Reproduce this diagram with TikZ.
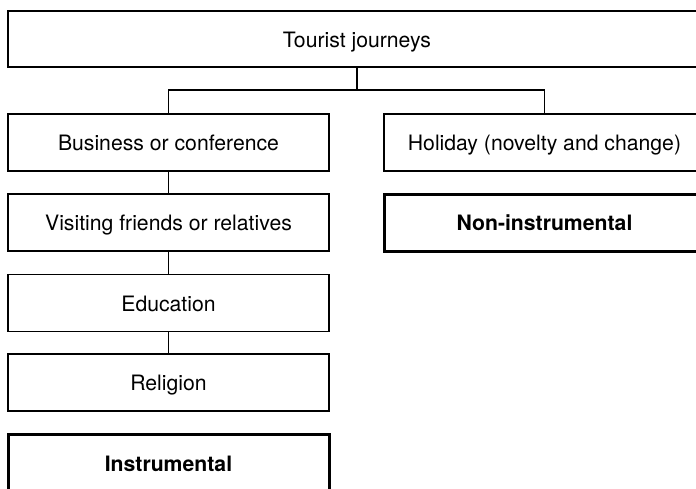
\documentclass[tikz,border=0pt]{standalone}
\usepackage{fontspec}
\setmainfont{TeX Gyre Heros}
\begin{document}
\begin{tikzpicture}[x=0.5pt,y=-0.5pt,
  box/.style={draw, rectangle, line width=0.7pt, inner sep=0pt,
    minimum height=28.5pt, minimum width=160.5pt,
    text height=8.4pt, text depth=0pt,
    font=\fontsize{10.6}{12.7}\selectfont},
  result/.style={box, line width=1.5pt, font=\fontsize{10.6}{12.7}\selectfont\bfseries},
  link/.style={line width=0.7pt}]
  \useasboundingbox (0,0) rectangle (696,488);
  \clip (0,0) rectangle (696,488);

  % root
  \node[box, minimum width=349pt, minimum height=28pt] (top) at (357,39) {Tourist journeys};

  % instrumental branch
  \node[box] (bus) at (168.5,142.5) {Business or conference};
  \node[box] (vis) at (168.5,222.5) {Visiting friends or relatives};
  \node[box] (edu) at (168.5,303)   {Education};
  \node[box] (rel) at (168.5,382.5) {Religion};
  \node[result] (ins) at (168.5,463) {Instrumental};

  % non-instrumental branch
  \node[box] (hol) at (544.5,142.5) {Holiday (novelty and change)};
  \node[result] (non) at (544.5,222.5) {Non-instrumental};

  % connectors
  \coordinate (bar) at (0,90);
  \draw[link] (top.south) -- (top.south |- bar);
  \draw[link] (bus.north) |- (bar -| hol.north) -- (hol.north);
  \draw[link] (bus.south) -- (vis.north);
  \draw[link] (vis.south) -- (edu.north);
  \draw[link] (edu.south) -- (rel.north);
\end{tikzpicture}
\end{document}
